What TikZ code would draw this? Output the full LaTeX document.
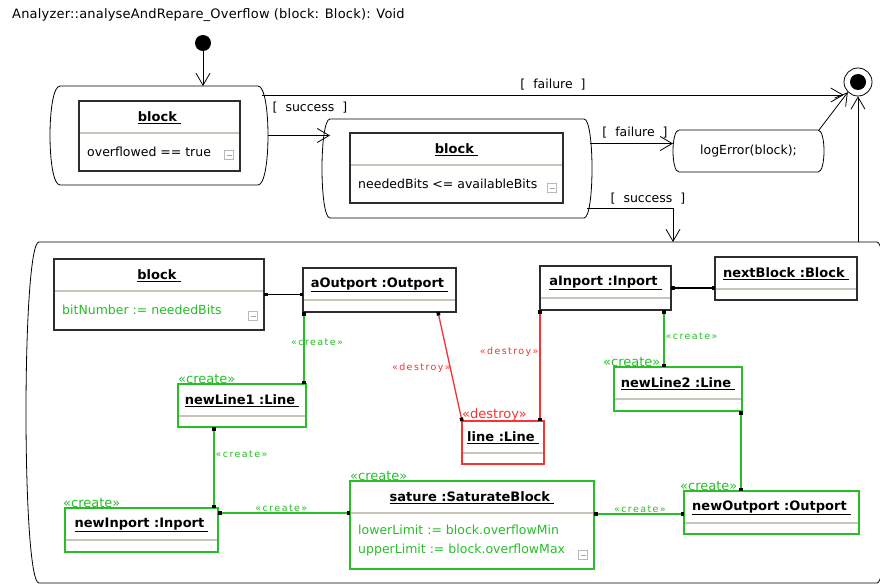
\documentclass[tikz,border=0pt]{standalone}
\usepackage{fontspec}
\setmainfont{DejaVu Sans}
\newfontfamily\linkfont[LetterSpace=15]{DejaVu Sans}
\newfontfamily\headfont[LetterSpace=1.5]{DejaVu Sans}
\definecolor{umlgreen}{RGB}{40,190,40}
\definecolor{umlred}{RGB}{250,50,50}
\definecolor{sepgray}{RGB}{200,196,186}
\definecolor{boxline}{RGB}{45,45,45}
\usetikzlibrary{arrows.meta,calc}
\newcommand{\objname}[1]{\underline{\textbf{#1}\hspace{4pt}}}
\newcommand{\stateoutline}[2]{%
  \draw[line width=0.8pt] ([xshift=#2]#1.north west) -- ([xshift=-#2]#1.north east)
    .. controls ([xshift=#2/3]#1.north east) and ([xshift=#2/3]#1.south east) .. ([xshift=-#2]#1.south east)
    -- ([xshift=#2]#1.south west)
    .. controls ([xshift=-#2/3]#1.south west) and ([xshift=-#2/3]#1.north west) .. cycle;}

\begin{document}
\begin{tikzpicture}[x=1pt,y=-1pt,
  actstate/.style={inner sep=0pt,outer sep=0pt,draw=none},
  objbox/.style={draw=boxline,line width=1.1pt,fill=white,inner sep=0pt,outer sep=0pt,anchor=north west},
  crbox/.style={objbox,draw=umlgreen},
  dsbox/.style={objbox,draw=umlred},
  objtitle/.style={font=\fontsize{13}{15}\selectfont,inner sep=0pt},
  attr/.style={font=\fontsize{12.5}{14}\selectfont,anchor=west,inner sep=0pt},
  cmpline/.style={sepgray,line width=1.6pt,shorten <=0.6pt,shorten >=0.6pt},
  transarrow/.style={-{Straight Barb[length=12pt,width=14pt]},line width=0.8pt},
  guard/.style={font=\fontsize{12.5}{14}\selectfont,inner sep=0pt},
  objlink/.style={line width=1.3pt,{Square[length=3.5pt,width=3.5pt,color=black]}-{Square[length=3.5pt,width=3.5pt,color=black]}},
  lnklabel/.style={font=\linkfont\fontsize{9.5}{11}\selectfont,inner sep=1pt},
  stereo/.style={font=\fontsize{13}{15}\selectfont,inner sep=0pt,anchor=south west},
  minusbox/.style={draw=gray!55,fill=white,line width=0.6pt,minimum size=9pt,inner sep=0pt,
    path picture={\draw[gray!70,line width=0.8pt] ([xshift=2pt]path picture bounding box.west)
      -- ([xshift=-2pt]path picture bounding box.east);}}
]
  \path[use as bounding box,fill=white] (0,0) rectangle (880,585);

  % header
  \node[font=\headfont\fontsize{13}{15}\selectfont,anchor=west,inner sep=0pt] (head) at (12,15)
    {Analyzer::analyseAndRepare\_Overflow (block: Block): Void};

  % initial and final states
  \node[circle,fill=black,minimum size=16pt,inner sep=0pt] (init) at (203,43) {};
  \node[circle,draw,line width=0.8pt,minimum size=28pt,inner sep=0pt] (final) at (858,82) {};
  \node[circle,fill=black,minimum size=16pt,inner sep=0pt] (finaldot) at (final) {};

  % state 1: block overflowed
  \node[actstate,minimum width=218pt,minimum height=99pt] (st1) at (159,135.5) {};
  \stateoutline{st1}{10pt}
  \node[objbox,minimum width=161pt,minimum height=70pt] (blk1) at (79,101) {};
  \node[objtitle] (blk1-t) at ([yshift=-17pt]blk1.north) {\objname{block}};
  \node[attr] (blk1-a) at (87,152) {overflowed == true};
  \node[minusbox] (blk1-m) at (229,155) {};

  % state 2: enough bits
  \node[actstate,minimum width=270pt,minimum height=99pt] (st2) at (457,168.5) {};
  \stateoutline{st2}{8pt}
  \node[objbox,minimum width=213pt,minimum height=70pt] (blk2) at (350,133) {};
  \node[objtitle] (blk2-t) at ([yshift=-17pt]blk2.north) {\objname{block}};
  \node[attr] (blk2-a) at (358,184) {neededBits <= availableBits};
  \node[minusbox] (blk2-m) at (552,188) {};

  % logError
  \node[actstate,minimum width=151pt,minimum height=42pt,font=\fontsize{12.5}{14}\selectfont]
    (logerr) at (748.5,151) {logError(block);};
  \stateoutline{logerr}{6pt}

  % state 3: rewiring
  \node[actstate,minimum width=864pt,minimum height=341pt] (st3) at (458,412.5) {};
  \stateoutline{st3}{13pt}

  \node[objbox,minimum width=210pt,minimum height=71pt] (blk3) at (54,259) {};
  \node[objtitle] (blk3-t) at ([yshift=-17pt]blk3.north) {\objname{block}};
  \node[attr,umlgreen] (blk3-a) at (62,310) {bitNumber := neededBits};
  \node[minusbox] (blk3-m) at (253,316) {};

  \node[objbox,minimum width=153pt,minimum height=44pt] (aout) at (303,268) {};
  \node[objtitle] (aout-t) at ([yshift=-17pt]aout.north) {\objname{aOutport :Outport}};
  \node[objbox,minimum width=131pt,minimum height=44pt] (ain) at (540,266) {};
  \node[objtitle] (ain-t) at ([yshift=-17pt]ain.north) {\objname{aInport :Inport}};
  \node[objbox,minimum width=142pt,minimum height=43pt] (nextb) at (715,257) {};
  \node[objtitle] (nextb-t) at ([yshift=-17pt]nextb.north) {\objname{nextBlock :Block}};

  \node[crbox,minimum width=128pt,minimum height=43pt] (nl1) at (178,384) {};
  \node[objtitle] (nl1-t) at ([yshift=-17pt]nl1.north) {\objname{newLine1 :Line}};
  \node[stereo,umlgreen] (nl1-s) at (nl1.north west) {«create»};
  \node[crbox,minimum width=128pt,minimum height=44pt] (nl2) at (614,367) {};
  \node[objtitle] (nl2-t) at ([yshift=-17pt]nl2.north) {\objname{newLine2 :Line}};
  \node[stereo,umlgreen] (nl2-s) at ([xshift=-11pt]nl2.north west) {«create»};
  \node[dsbox,minimum width=82pt,minimum height=43pt] (linel) at (462,421) {};
  \node[objtitle] (linel-t) at ([yshift=-17pt]linel.north) {\objname{line :Line}};
  \node[stereo,umlred] (linel-s) at (linel.north west) {«destroy»};
  \node[crbox,minimum width=153pt,minimum height=44pt] (nin) at (65,508) {};
  \node[objtitle] (nin-t) at ([yshift=-17pt]nin.north) {\objname{newInport :Inport}};
  \node[stereo,umlgreen] (nin-s) at ([xshift=-2pt]nin.north west) {«create»};
  \node[crbox,minimum width=244pt,minimum height=88pt] (sat) at (350,481) {};
  \node[objtitle] (sat-t) at ([yshift=-17pt]sat.north) {\objname{sature :SaturateBlock}};
  \node[stereo,umlgreen] (sat-s) at (sat.north west) {«create»};
  \node[attr,umlgreen] (sat-a1) at (358,530) {lowerLimit := block.overflowMin};
  \node[attr,umlgreen] (sat-a2) at (358,550) {upperLimit := block.overflowMax};
  \node[minusbox] (sat-m) at (583,555) {};
  \node[crbox,minimum width=175pt,minimum height=43pt] (nout) at (684,491) {};
  \node[objtitle] (nout-t) at ([yshift=-17pt]nout.north) {\objname{newOutport :Outport}};
  \node[stereo,umlgreen] (nout-s) at ([xshift=-4pt]nout.north west) {«create»};

  \foreach \b in {blk1,blk2,blk3,aout,ain,nextb,nl1,nl2,linel,nin,sat,nout}
    \draw[cmpline] ([yshift=-32pt]\b.north west) -- ([yshift=-32pt]\b.north east);

  % links
  \draw[objlink] (blk3.east) -- (blk3.east -| aout.west);
  \draw[objlink] (ain.east) -- (ain.east -| nextb.west);
  \draw[objlink,umlgreen] ([xshift=1pt]aout.south west) -- ([xshift=1pt]aout.south west |- nl1.north)
    node[lnklabel,pos=0.42,xshift=13pt] (lb1) {«create»};
  \draw[objlink,umlred] ([xshift=-18pt]aout.south east) -- (linel.north west)
    node[lnklabel,pos=0.51,anchor=east,xshift=2pt] (lb2) {«destroy»};
  \draw[objlink,umlred] (ain.south west) -- (ain.south west |- linel.north)
    node[lnklabel,pos=0.38,anchor=east] (lb3) {«destroy»};
  \draw[objlink,umlgreen] ([xshift=-7pt]ain.south east) -- ([xshift=-7pt]ain.south east |- nl2.north)
    node[lnklabel,pos=0.46,anchor=west] (lb4) {«create»};
  \draw[objlink,umlgreen] ([xshift=36pt]nl1.south west) -- ([xshift=36pt]nl1.south west |- nin.north)
    node[lnklabel,pos=0.33,anchor=west] (lb5) {«create»};
  \draw[objlink,umlgreen] ([yshift=-5pt]nin.north east) -- ([yshift=-5pt]nin.north east -| sat.west)
    node[lnklabel,pos=0.48,anchor=south] (lb6) {«create»};
  \draw[objlink,umlgreen] ([yshift=-33pt]sat.north east) -- ([yshift=-33pt]sat.north east -| nout.west)
    node[lnklabel,pos=0.51,anchor=south] (lb7) {«create»};
  \draw[objlink,umlgreen] ([xshift=-1pt]nl2.south east) -- ([xshift=-1pt]nl2.south east |- nout.north);

  % transitions
  \draw[transarrow] (init) -- (init |- st1.north);
  \draw[transarrow] (st1.east) -- ([xshift=8pt]st1.east -| st2.west);
  \node[guard] (g1) at (310,108) {[\ \ success\ \ ]};
  \coordinate (f1) at ([xshift=-6pt,yshift=-9pt]st1.north east);
  \draw[transarrow] (f1) -- (f1 -| final.west);
  \node[guard] (g2) at (553,85) {[\ \ failure\ \ ]};
  \draw[transarrow] ([xshift=-2pt,yshift=25pt]st2.east) -- ([yshift=25pt]st2.east -| logerr.west);
  \node[guard] (g3) at (635,133) {[\ \ failure\ \ ]};
  \draw[transarrow] ([xshift=-5pt]logerr.north east) -- (final.south west);
  \draw[transarrow] ([xshift=-5pt,yshift=10pt]st2.south east) -| (logerr.west |- st3.north);
  \node[guard] (g4) at (648,199) {[\ \ success\ \ ]};
  \draw[transarrow] (final.south |- st3.north) -- (final.south);
\end{tikzpicture}
\end{document}
